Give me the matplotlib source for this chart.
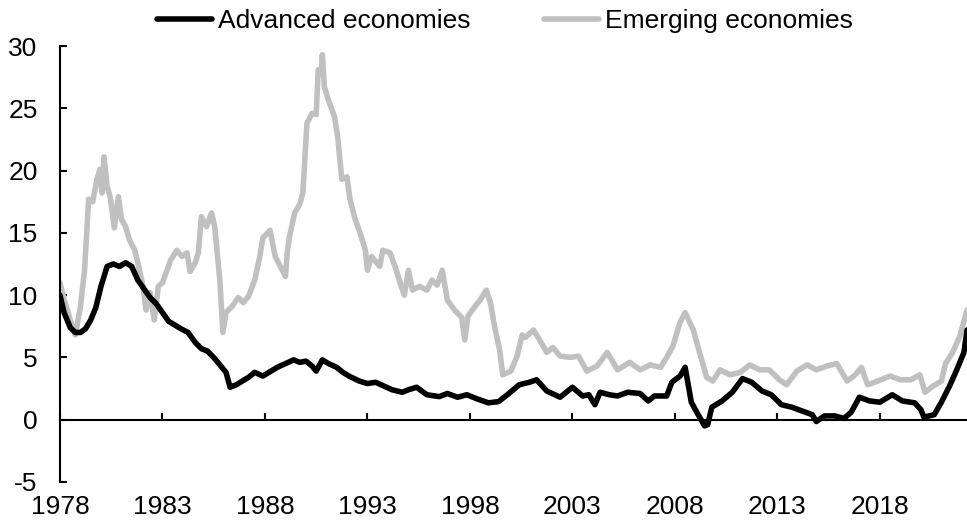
import matplotlib
matplotlib.use("Agg")
import matplotlib.pyplot as plt

plt.rcParams['font.family'] = ['Liberation Sans', 'DejaVu Sans']
plt.rcParams['axes.unicode_minus'] = False

# Advanced economies (year, % y/y)
adv_years = [1978.0, 1978.2, 1978.5, 1978.75, 1979.0, 1979.25, 1979.5, 1979.75, 1980.0, 1980.3,
             1980.6, 1980.9, 1981.2, 1981.5, 1981.8, 1982.1, 1982.4, 1982.7, 1983.0, 1983.3,
             1983.6, 1983.9, 1984.25, 1984.6, 1984.9, 1985.2, 1985.55, 1985.85, 1986.1, 1986.3,
             1986.6, 1986.9, 1987.2, 1987.5, 1987.9, 1988.3, 1988.6, 1989.0, 1989.4, 1989.7,
             1990.0, 1990.3, 1990.5, 1990.8, 1991.1, 1991.5, 1991.8, 1992.1, 1992.6, 1993.0,
             1993.4, 1993.8, 1994.2, 1994.7, 1995.0, 1995.4, 1995.9, 1996.5, 1996.9, 1997.4,
             1997.85, 1998.3, 1998.9, 1999.4, 1999.9, 2000.4, 2000.9, 2001.25, 2001.75, 2002.4,
             2003.0, 2003.5, 2003.8, 2004.1, 2004.35, 2004.8, 2005.2, 2005.7, 2006.3, 2006.7,
             2007.0, 2007.6, 2007.85, 2008.25, 2008.5, 2008.8, 2009.1, 2009.45, 2009.6, 2009.8,
             2010.3, 2010.8, 2011.3, 2011.75, 2012.25, 2012.7, 2013.2, 2013.7, 2014.2, 2014.7,
             2014.9, 2015.3, 2015.8, 2016.25, 2016.6, 2017.0, 2017.5, 2018.0, 2018.6, 2019.1,
             2019.7, 2020.0, 2020.15, 2020.65, 2021.0, 2021.4, 2021.75, 2022.1, 2022.25]
adv_vals = [10.0, 8.6, 7.4, 7.0, 7.0, 7.3, 8.0, 9.0, 10.7, 12.3,
            12.5, 12.3, 12.6, 12.3, 11.2, 10.5, 9.8, 9.3, 8.6, 7.9,
            7.6, 7.3, 7.0, 6.2, 5.7, 5.5, 4.9, 4.3, 3.8, 2.6,
            2.8, 3.1, 3.4, 3.8, 3.5, 3.9, 4.2, 4.5, 4.8, 4.6,
            4.7, 4.3, 3.9, 4.8, 4.5, 4.2, 3.8, 3.5, 3.1, 2.9,
            3.0, 2.7, 2.4, 2.2, 2.4, 2.6, 2.0, 1.85, 2.1, 1.8,
            2.0, 1.7, 1.35, 1.45, 2.1, 2.8, 3.0, 3.2, 2.3, 1.8,
            2.6, 1.9, 2.0, 1.2, 2.2, 2.0, 1.9, 2.2, 2.1, 1.5,
            1.9, 1.9, 3.0, 3.5, 4.2, 1.4, 0.5, -0.5, -0.4, 1.0,
            1.5, 2.2, 3.3, 3.0, 2.3, 2.0, 1.2, 1.0, 0.7, 0.4,
            -0.15, 0.3, 0.3, 0.1, 0.6, 1.8, 1.5, 1.4, 2.0, 1.5,
            1.35, 0.8, 0.2, 0.4, 1.4, 2.7, 4.0, 5.4, 7.2]

# Emerging economies (year, % y/y)
em_years = [1978.0, 1978.25, 1978.6, 1978.75, 1979.0, 1979.2, 1979.4, 1979.6, 1979.8, 1979.95,
            1980.05, 1980.15, 1980.3, 1980.45, 1980.65, 1980.85, 1981.0, 1981.2, 1981.4, 1981.65,
            1981.8, 1982.05, 1982.2, 1982.4, 1982.6, 1982.8, 1983.0, 1983.4, 1983.7, 1983.95,
            1984.2, 1984.35, 1984.6, 1984.75, 1984.9, 1985.15, 1985.4, 1985.55, 1985.8, 1985.95,
            1986.1, 1986.4, 1986.7, 1986.95, 1987.2, 1987.5, 1987.75, 1987.9, 1988.25, 1988.5,
            1988.75, 1989.0, 1989.1, 1989.2, 1989.45, 1989.7, 1989.85, 1990.05, 1990.3, 1990.5,
            1990.6, 1990.75, 1990.8, 1990.9, 1991.15, 1991.4, 1991.55, 1991.75, 1992.0, 1992.15,
            1992.4, 1992.7, 1992.9, 1993.0, 1993.2, 1993.6, 1993.75, 1994.1, 1994.35, 1994.65,
            1994.8, 1995.0, 1995.2, 1995.55, 1995.9, 1996.15, 1996.4, 1996.65, 1996.9, 1997.25,
            1997.6, 1997.75, 1997.9, 1998.25, 1998.5, 1998.8, 1999.0, 1999.2, 1999.45, 1999.6,
            2000.0, 2000.3, 2000.55, 2000.7, 2001.1, 2001.4, 2001.75, 2002.05, 2002.4, 2002.9,
            2003.3, 2003.7, 2004.2, 2004.7, 2005.2, 2005.8, 2006.3, 2006.8, 2007.3, 2007.6,
            2007.9, 2008.25, 2008.5, 2008.9, 2009.2, 2009.55, 2009.85, 2010.2, 2010.7, 2011.2,
            2011.65, 2012.15, 2012.6, 2013.1, 2013.45, 2013.95, 2014.45, 2014.9, 2015.4, 2015.9,
            2016.4, 2016.8, 2017.1, 2017.4, 2017.9, 2018.5, 2019.0, 2019.5, 2019.95, 2020.2,
            2020.6, 2021.0, 2021.2, 2021.55, 2021.9, 2022.25]
em_vals = [11.0, 9.4, 7.5, 6.8, 9.1, 12.0, 17.7, 17.5, 19.3, 20.1,
           18.2, 21.1, 18.7, 17.9, 15.4, 17.9, 16.1, 15.5, 14.4, 13.6,
           12.6, 10.7, 8.8, 10.2, 8.0, 10.7, 11.0, 12.8, 13.6, 13.1,
           13.4, 11.9, 12.6, 13.4, 16.3, 15.5, 16.6, 15.5, 11.2, 7.0,
           8.6, 9.1, 9.8, 9.4, 9.9, 11.2, 13.1, 14.6, 15.2, 13.1,
           12.3, 11.5, 13.6, 14.7, 16.6, 17.3, 18.2, 23.8, 24.6, 24.5,
           28.1, 27.8, 29.3, 26.7, 25.4, 24.3, 22.7, 19.3, 19.5, 17.7,
           16.1, 14.7, 13.6, 12.0, 13.1, 12.3, 13.6, 13.4, 12.3, 10.7,
           10.0, 12.0, 10.4, 10.7, 10.4, 11.2, 10.8, 12.0, 9.6, 8.8,
           8.2, 6.4, 8.3, 9.1, 9.6, 10.4, 9.4, 7.5, 5.6, 3.6,
           3.9, 5.1, 6.8, 6.6, 7.2, 6.4, 5.4, 5.8, 5.1, 5.0,
           5.1, 3.9, 4.3, 5.4, 4.0, 4.6, 4.0, 4.4, 4.2, 5.0,
           5.9, 7.8, 8.6, 7.2, 5.4, 3.4, 3.1, 4.0, 3.6, 3.8,
           4.4, 4.0, 4.0, 3.2, 2.8, 3.9, 4.4, 4.0, 4.3, 4.5,
           3.1, 3.6, 4.2, 2.8, 3.1, 3.5, 3.2, 3.2, 3.6, 2.2,
           2.7, 3.1, 4.5, 5.4, 6.7, 8.8]

x_ticks = [1978, 1983, 1988, 1993, 1998, 2003, 2008, 2013, 2018]
y_ticks = [-5, 0, 5, 10, 15, 20, 25, 30]

fig = plt.figure(figsize=(9.67, 5.29), dpi=100)
ax = fig.add_axes([0.062, 0.089, 0.938, 0.824])

ax.plot(adv_years, adv_vals, color='black', lw=4, solid_joinstyle='round',
        solid_capstyle='round', label='Advanced economies', zorder=3)
ax.plot(em_years, em_vals, color='#c0c0c0', lw=4, solid_joinstyle='round',
        solid_capstyle='round', label='Emerging economies', zorder=2)

ax.set_xlim(1978, 2022.25)
ax.set_ylim(-5, 30)
ax.set_xticks(x_ticks)
ax.set_yticks(y_ticks)
ax.set_xticklabels([str(t) for t in x_ticks])

ax.spines['top'].set_visible(False)
ax.spines['right'].set_visible(False)
ax.spines['bottom'].set_position(('data', 0))
for s in ('left', 'bottom'):
    ax.spines[s].set_linewidth(1.5)

ax.tick_params(axis='y', direction='in', length=5, width=1.5, pad=16, labelsize=19)
ax.tick_params(axis='x', direction='in', length=5, width=1.5, pad=54, labelsize=19)

fig.legend(loc='center', bbox_to_anchor=(0.522, 0.96), ncol=2, frameon=False,
           fontsize=19, handlelength=2.1, handletextpad=0.2, columnspacing=2.8,
           borderpad=0)

fig.savefig('out.png', dpi=100)
